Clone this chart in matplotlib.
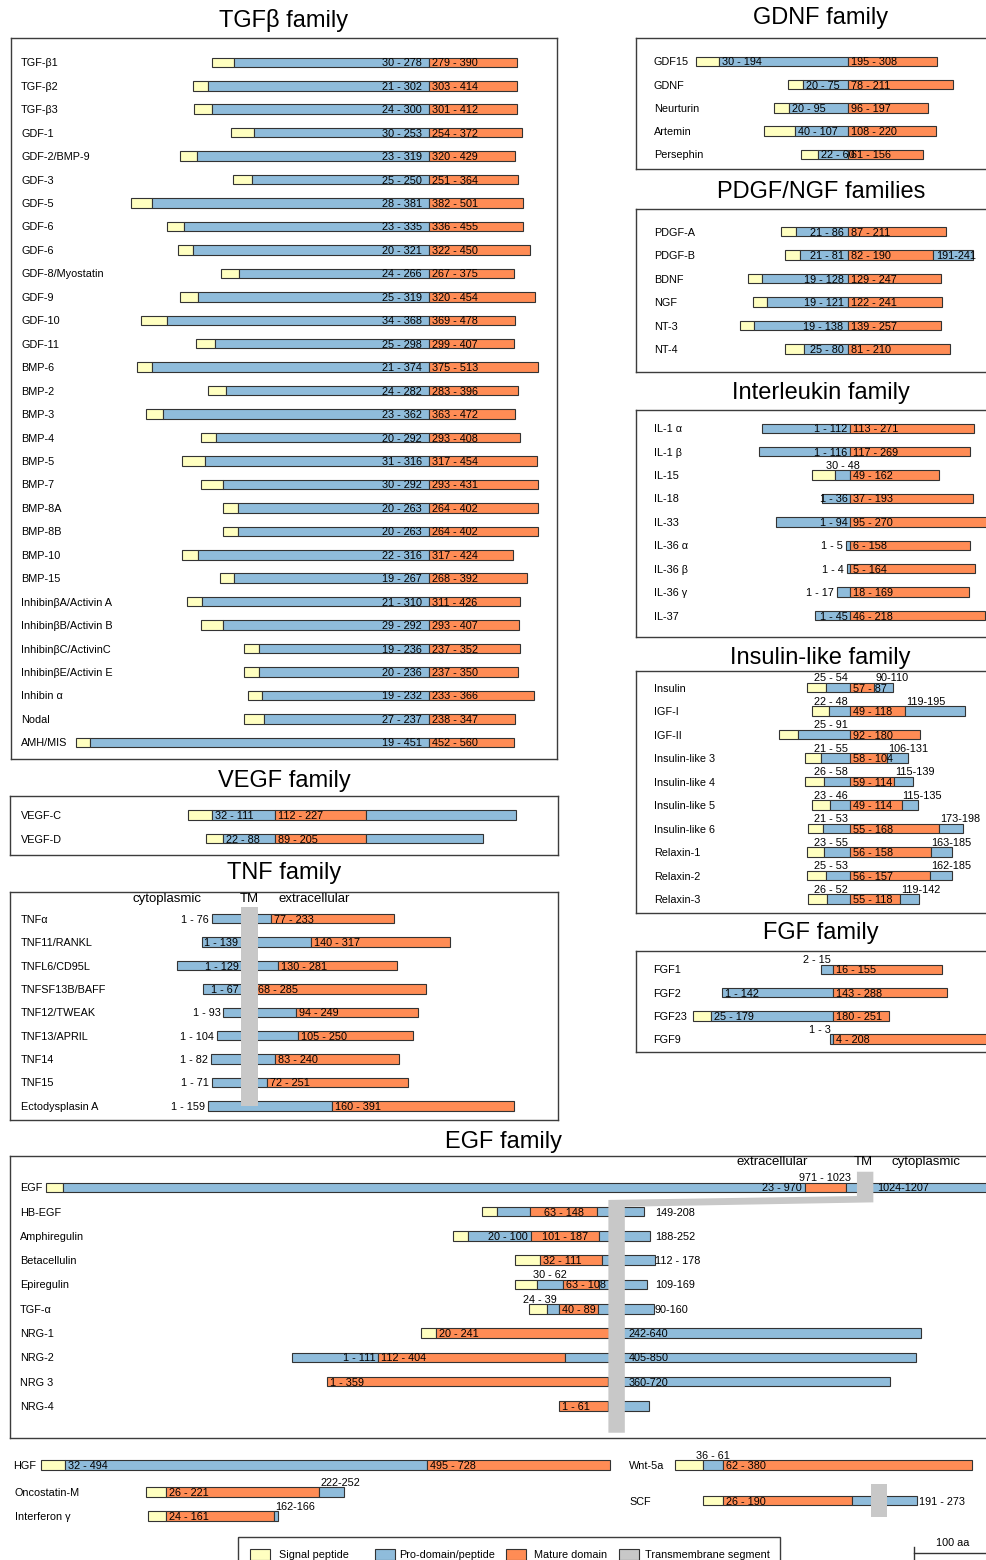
import matplotlib
matplotlib.use('Agg')
import matplotlib.pyplot as plt
from matplotlib.patches import Rectangle, Polygon

plt.rcParams['font.family'] = ['Liberation Sans', 'DejaVu Sans']

W, H = 987, 1560
S = 0.782            # pixels per amino acid
BAR_PX = 9.5
TM_AA = 21
FS = 7.8
COL = {'S': '#ffffc0', 'P': '#8fbcdb', 'M': '#ff8c55'}
TM_COL = '#c8c8c8'
EDGE = '#333333'

# ---------------- data ----------------
tgfb_names = ['TGF-β1', 'TGF-β2', 'TGF-β3', 'GDF-1', 'GDF-2/BMP-9', 'GDF-3', 'GDF-5',
              'GDF-6', 'GDF-6', 'GDF-8/Myostatin', 'GDF-9', 'GDF-10', 'GDF-11', 'BMP-6',
              'BMP-2', 'BMP-3', 'BMP-4', 'BMP-5', 'BMP-7', 'BMP-8A', 'BMP-8B', 'BMP-10',
              'BMP-15', 'InhibinβA/Activin A', 'InhibinβB/Activin B', 'InhibinβC/ActivinC',
              'InhibinβE/Activin E', 'Inhibin α', 'Nodal', 'AMH/MIS']
tgfb_pro = [(30, 278), (21, 302), (24, 300), (30, 253), (23, 319), (25, 250), (28, 381),
            (23, 335), (20, 321), (24, 266), (25, 319), (34, 368), (25, 298), (21, 374),
            (24, 282), (23, 362), (20, 292), (31, 316), (30, 292), (20, 263), (20, 263),
            (22, 316), (19, 267), (21, 310), (29, 292), (19, 236), (20, 236), (19, 232),
            (27, 237), (19, 451)]
tgfb_mature = [(279, 390), (303, 414), (301, 412), (254, 372), (320, 429), (251, 364),
               (382, 501), (336, 455), (322, 450), (267, 375), (320, 454), (369, 478),
               (299, 407), (375, 513), (283, 396), (363, 472), (293, 408), (317, 454),
               (293, 431), (264, 402), (264, 402), (317, 424), (268, 392), (311, 426),
               (293, 407), (237, 352), (237, 350), (233, 366), (238, 347), (452, 560)]

vegf_names = ['VEGF-C', 'VEGF-D']
vegf_segs = [
    [('S', 1, 31), ('P', 32, 111, '32 - 111', 'l'), ('M', 112, 227, '112 - 227', 'l'), ('P', 228, 419)],
    [('S', 1, 21), ('P', 22, 88, '22 - 88', 'l'), ('M', 89, 205, '89 - 205', 'l'), ('P', 206, 354)],
]

tnf_names = ['TNFα', 'TNF11/RANKL', 'TNFL6/CD95L', 'TNFSF13B/BAFF', 'TNF12/TWEAK',
             'TNF13/APRIL', 'TNF14', 'TNF15', 'Ectodysplasin A']
tnf_tm = [39, 51, 83, 50, 24, 32, 40, 39, 44]
tnf_segs = [
    [('P', 1, 76, '1 - 76', 'ol'), ('M', 77, 233, '77 - 233', 'l')],
    [('P', 1, 139, '1 - 139', 'tl'), ('M', 140, 317, '140 - 317', 'l')],
    [('P', 1, 129, '1 - 129', 'tl'), ('M', 130, 281, '130 - 281', 'l')],
    [('P', 1, 67, '1 - 67', 'tl'), ('M', 68, 285, '68 - 285', 'l')],
    [('P', 1, 93, '1 - 93', 'ol'), ('M', 94, 249, '94 - 249', 'l')],
    [('P', 1, 104, '1 - 104', 'ol'), ('M', 105, 250, '105 - 250', 'l')],
    [('P', 1, 82, '1 - 82', 'ol'), ('M', 83, 240, '83 - 240', 'l')],
    [('P', 1, 71, '1 - 71', 'ol'), ('M', 72, 251, '72 - 251', 'l')],
    [('P', 1, 159, '1 - 159', 'ol'), ('M', 160, 391, '160 - 391', 'l')],
]

gdnf_names = ['GDF15', 'GDNF', 'Neurturin', 'Artemin', 'Persephin']
gdnf_segs = [
    [('S', 1, 29), ('P', 30, 194, '30 - 194', 'l'), ('M', 195, 308, '195 - 308', 'l')],
    [('S', 1, 19), ('P', 20, 77, '20 - 75', 'l'), ('M', 78, 211, '78 - 211', 'l')],
    [('S', 1, 19), ('P', 20, 95, '20 - 95', 'l'), ('M', 96, 197, '96 - 197', 'l')],
    [('S', 1, 39), ('P', 40, 107, '40 - 107', 'l'), ('M', 108, 220, '108 - 220', 'l')],
    [('S', 1, 21), ('P', 22, 60, '22 - 60', 'l'), ('M', 61, 156, '61 - 156', 'l')],
]

pdgf_names = ['PDGF-A', 'PDGF-B', 'BDNF', 'NGF', 'NT-3', 'NT-4']
pdgf_segs = [
    [('S', 1, 20), ('P', 21, 86, '21 - 86', 'r'), ('M', 87, 211, '87 - 211', 'l')],
    [('S', 1, 20), ('P', 21, 81, '21 - 81', 'r'), ('M', 82, 190, '82 - 190', 'l'), ('P', 191, 241, '191-241', 'l')],
    [('S', 1, 18), ('P', 19, 128, '19 - 128', 'r'), ('M', 129, 247, '129 - 247', 'l')],
    [('S', 1, 18), ('P', 19, 121, '19 - 121', 'r'), ('M', 122, 241, '122 - 241', 'l')],
    [('S', 1, 18), ('P', 19, 138, '19 - 138', 'r'), ('M', 139, 257, '139 - 257', 'l')],
    [('S', 1, 24), ('P', 25, 80, '25 - 80', 'r'), ('M', 81, 210, '81 - 210', 'l')],
]

il_names = ['IL-1 α', 'IL-1 β', 'IL-15', 'IL-18', 'IL-33', 'IL-36 α', 'IL-36 β', 'IL-36 γ', 'IL-37']
il_segs = [
    [('P', 1, 112, '1 - 112', 'r'), ('M', 113, 271, '113 - 271', 'l')],
    [('P', 1, 116, '1 - 116', 'r'), ('M', 117, 269, '117 - 269', 'l')],
    [('S', 1, 29), ('P', 30, 48, '30 - 48', 'ac'), ('M', 49, 162, '49 - 162', 'l')],
    [('P', 1, 36, '1 - 36', 'r'), ('M', 37, 193, '37 - 193', 'l')],
    [('P', 1, 94, '1 - 94', 'r'), ('M', 95, 270, '95 - 270', 'l')],
    [('P', 1, 5, '1 - 5', 'ol'), ('M', 6, 158, '6 - 158', 'l')],
    [('P', 1, 4, '1 - 4', 'ol'), ('M', 5, 164, '5 - 164', 'l')],
    [('P', 1, 17, '1 - 17', 'ol'), ('M', 18, 169, '18 - 169', 'l')],
    [('P', 1, 45, '1 - 45', 'r'), ('M', 46, 218, '46 - 218', 'l')],
]

ins_names = ['Insulin', 'IGF-I', 'IGF-II', 'Insulin-like 3', 'Insulin-like 4', 'Insulin-like 5',
             'Insulin-like 6', 'Relaxin-1', 'Relaxin-2', 'Relaxin-3']
ins_segs = [
    [('S', 1, 24), ('P', 25, 55, '25 - 54', 'ar'), ('M', 56, 86, '57 - 87', 'l'), ('P', 87, 110, '90-110', 'al')],
    [('S', 1, 21), ('P', 22, 48, '22 - 48', 'ar'), ('M', 49, 118, '49 - 118', 'l'), ('P', 119, 195, '119-195', 'al')],
    [('S', 1, 24), ('P', 25, 91, '25 - 91', 'ar'), ('M', 92, 180, '92 - 180', 'l')],
    [('S', 1, 20), ('P', 21, 57, '21 - 55', 'ar'), ('M', 58, 104, '58 - 104', 'l'), ('P', 105, 131, '106-131', 'al')],
    [('S', 1, 25), ('P', 26, 58, '26 - 58', 'ar'), ('M', 59, 114, '59 - 114', 'l'), ('P', 115, 139, '115-139', 'al')],
    [('S', 1, 22), ('P', 23, 48, '23 - 46', 'ar'), ('M', 49, 114, '49 - 114', 'l'), ('P', 115, 135, '115-135', 'al')],
    [('S', 1, 20), ('P', 21, 54, '21 - 53', 'ar'), ('M', 55, 168, '55 - 168', 'l'), ('P', 169, 198, '173-198', 'al')],
    [('S', 1, 22), ('P', 23, 55, '23 - 55', 'ar'), ('M', 56, 158, '56 - 158', 'l'), ('P', 159, 185, '163-185', 'al')],
    [('S', 1, 24), ('P', 25, 55, '25 - 53', 'ar'), ('M', 56, 157, '56 - 157', 'l'), ('P', 158, 185, '162-185', 'al')],
    [('S', 1, 25), ('P', 26, 54, '26 - 52', 'ar'), ('M', 55, 118, '55 - 118', 'l'), ('P', 119, 142, '119-142', 'al')],
]

fgf_names = ['FGF1', 'FGF2', 'FGF23', 'FGF9']
fgf_segs = [
    [('P', 1, 15, '2 - 15', 'ar'), ('M', 16, 155, '16 - 155', 'l')],
    [('P', 1, 142, '1 - 142', 'l'), ('M', 143, 288, '143 - 288', 'l')],
    [('S', 1, 24), ('P', 25, 179, '25 - 179', 'l'), ('M', 180, 251, '180 - 251', 'l')],
    [('P', 1, 3, '1 - 3', 'ar'), ('M', 4, 208, '4 - 208', 'l')],
]

egf_names = ['EGF', 'HB-EGF', 'Amphiregulin', 'Betacellulin', 'Epiregulin', 'TGF-α',
             'NRG-1', 'NRG-2', 'NRG 3', 'NRG-4']
egf_tm = [1038, 163, 200, 120, 121, 103, 241, 406, 361, 64]
egf_segs = [
    [('S', 1, 22), ('P', 23, 970, '23 - 970', 'r'), ('M', 971, 1023, '971 - 1023', 'ac'), ('P', 1024, 1207, '1024-1207', 'tm')],
    [('S', 1, 19), ('P', 20, 62), ('M', 63, 148, '63 - 148', 'c'), ('P', 149, 208, '149-208', 'col')],
    [('S', 1, 19), ('P', 20, 100, '20 - 100', 'r'), ('M', 101, 187, '101 - 187', 'c'), ('P', 188, 252, '188-252', 'col')],
    [('S', 1, 31), ('M', 32, 111, '32 - 111', 'l'), ('P', 112, 178, '112 - 178', 'col')],
    [('S', 1, 29), ('P', 30, 62, '30 - 62', 'ac'), ('M', 63, 108, '63 - 108', 'l'), ('P', 109, 169, '109-169', 'col')],
    [('S', 1, 23), ('P', 24, 39, '24 - 39', 'ar'), ('M', 40, 89, '40 - 89', 'l'), ('P', 90, 160, '90-160', 'col')],
    [('S', 1, 19), ('M', 20, 241, '20 - 241', 'l'), ('P', 242, 640, '242-640', 'tm')],
    [('P', 1, 111, '1 - 111', 'r'), ('M', 112, 350, '112 - 404', 'l'), ('P', 351, 798, '405-850', 'tm')],
    [('M', 1, 359, '1 - 359', 'l'), ('P', 360, 720, '360-720', 'tm')],
    [('M', 1, 62, '1 - 61', 'l'), ('P', 63, 115)],
]

misc_names = ['HGF', 'Oncostatin-M', 'Interferon γ', 'Wnt-5a', 'SCF']
misc_align = [0, 25, 23, 61, 25]
misc_segs = [
    [('S', 1, 31), ('P', 32, 494, '32 - 494', 'l'), ('M', 495, 728, '495 - 728', 'l')],
    [('S', 1, 25), ('M', 26, 221, '26 - 221', 'l'), ('P', 222, 252, '222-252', 'al')],
    [('S', 1, 23), ('M', 24, 161, '24 - 161', 'l'), ('P', 162, 166, '162-166', 'al')],
    [('S', 1, 35), ('P', 36, 61, '36 - 61', 'ac'), ('M', 62, 380, '62 - 380', 'l')],
    [('S', 1, 25), ('M', 26, 190, '26 - 190', 'l'), ('P', 191, 273, '191 - 273', 'or')],
]
scf_tm = 215

legend_labels = ['Signal peptide', 'Pro-domain/peptide', 'Mature domain', 'Transmembrane segment']

# ---------------- drawing ----------------
fig = plt.figure(figsize=(W / 100, H / 100), dpi=100)


def title(x, y, s):
    fig.text(x / W, 1 - y / H, s, ha='center', va='center', fontsize=17)


def panel(box, row0, step, anchor):
    x0, y0, x1, y1 = box
    ax = fig.add_axes([x0 / W, 1 - y1 / H, (x1 - x0) / W, (y1 - y0) / H])
    ax.set_xlim((x0 - anchor) / S, (x1 - anchor) / S)
    ax.set_ylim((y1 - row0) / step, (y0 - row0) / step)
    ax.set_xticks([])
    ax.set_yticks([])
    ax.patch.set_alpha(0)
    for sp in ax.spines.values():
        sp.set_color('#3c3c3c')
        sp.set_linewidth(1.0)
    return ax


def first_mature(segs):
    return [s[1] for s in segs if s[0] == 'M'][0] - 1


def draw_row(ax, row, segs, align, step, pad_r=3, tm_x=None, col_x=None):
    h = BAR_PX / step
    px, py = 1 / S, 1 / step
    bar_l = segs[0][1] - 1 - align
    bar_r = segs[-1][2] - align
    for seg in segs:
        kind, s, e = seg[:3]
        left, right = s - 1 - align, e - align
        ax.barh(row, right - left, left=left, height=h, color=COL[kind],
                edgecolor=EDGE, linewidth=0.8, zorder=2)
        if len(seg) < 4:
            continue
        text, place = seg[3], seg[4]
        y, va = row, 'center_baseline'
        if place.startswith('a'):
            y, va = row - h / 2 - 1.5 * py, 'baseline'
        if place == 'l':
            x, ha = left + 3 * px, 'left'
        elif place == 'r':
            x, ha = right - pad_r * px, 'right'
        elif place in ('c', 'ac'):
            x, ha = (left + right) / 2, 'center'
        elif place == 'ar':
            x, ha = right - 2 * px, 'right'
        elif place == 'al':
            x, ha = left + 1 * px, 'left'
        elif place == 'ol':
            x, ha = bar_l - 3 * px, 'right'
        elif place == 'or':
            x, ha = bar_r + 2 * px, 'left'
        elif place == 'col':
            x, ha = col_x, 'left'
        elif place == 'tm':
            x, ha = tm_x + TM_AA + 3.5 * px, 'left'
        else:  # 'tl'
            x, ha = tm_x - 3 * px, 'right'
        ax.text(x, y, text, ha=ha, va=va, fontsize=FS, zorder=6)


def names(ax, labels, name_px, anchor):
    for i, n in enumerate(labels):
        ax.text((name_px - anchor) / S, i, n, ha='left', va='center_baseline', fontsize=FS)


# TGF-beta family
title(284, 20, 'TGFβ family')
ax = panel((11, 38, 557, 759), 62.3, 23.45, 429)
names(ax, tgfb_names, 21, 429)
for i, ((p0, p1), (m0, m1)) in enumerate(zip(tgfb_pro, tgfb_mature)):
    segs = [('S', 1, p0 - 1), ('P', p0, p1, f'{p0} - {p1}', 'r'), ('M', m0, m1, f'{m0} - {m1}', 'l')]
    draw_row(ax, i, segs, m0 - 1, 23.45, pad_r=7)

# VEGF family
title(284, 781, 'VEGF family')
ax = panel((10, 796, 558, 855), 815, 23.7, 275)
names(ax, vegf_names, 21, 275)
for i, segs in enumerate(vegf_segs):
    draw_row(ax, i, segs, first_mature(segs), 23.7)

# TNF family
title(284, 873, 'TNF family')
ax = panel((10, 892, 558, 1120), 918.7, 23.4, 241.4)
names(ax, tnf_names, 21, 241.4)
for i, segs in enumerate(tnf_segs):
    draw_row(ax, i, segs, tnf_tm[i] - 1, 23.4, tm_x=0)
ax.add_patch(Rectangle((0, -0.51), TM_AA, len(tnf_names) - 0.49, facecolor=TM_COL,
                       edgecolor='none', zorder=3))
for txt, xp in [('cytoplasmic', 167), ('TM', 249), ('extracellular', 314.5)]:
    ax.text((xp - 241.4) / S, -0.84, txt, ha='center', va='center', fontsize=9.5)

# GDNF family
title(820.7, 18.3, 'GDNF family')
ax = panel((636, 38, 1000, 169), 61.3, 23.25, 848)
names(ax, gdnf_names, 654, 848)
for i, segs in enumerate(gdnf_segs):
    draw_row(ax, i, segs, first_mature(segs), 23.25)

# PDGF/NGF families
title(820.7, 191.7, 'PDGF/NGF families')
ax = panel((636, 209, 1000, 372), 231.7, 23.45, 848)
names(ax, pdgf_names, 654, 848)
for i, segs in enumerate(pdgf_segs):
    draw_row(ax, i, segs, first_mature(segs), 23.45, pad_r=4.5)

# Interleukin family
title(820.7, 393, 'Interleukin family')
ax = panel((636, 410, 1000, 637), 428.3, 23.4, 850)
names(ax, il_names, 654, 850)
for i, segs in enumerate(il_segs):
    draw_row(ax, i, segs, first_mature(segs), 23.4, pad_r=2.5)

# Insulin-like family
title(820.7, 658.3, 'Insulin-like family')
ax = panel((636, 671, 1000, 913), 687.7, 23.48, 850)
names(ax, ins_names, 654, 850)
for i, segs in enumerate(ins_segs):
    draw_row(ax, i, segs, first_mature(segs), 23.48)

# FGF family
title(820.7, 933.3, 'FGF family')
ax = panel((636, 951, 1000, 1052), 969.3, 23.25, 832.7)
names(ax, fgf_names, 652.7, 832.7)
for i, segs in enumerate(fgf_segs):
    draw_row(ax, i, segs, first_mature(segs), 23.25)

# EGF family
EGF_ANCHOR, EGF_STEP = 608.4, 24.3
title(503.5, 1142.3, 'EGF family')
ax = panel((9.5, 1156, 1000, 1438), 1187.3, EGF_STEP, EGF_ANCHOR)
names(ax, egf_names, 20, EGF_ANCHOR)
egf_align = [t - 1 for t in egf_tm]
egf_align[0] = (EGF_ANCHOR - 46) / S          # EGF itself starts near the left edge
col_x = (655 - EGF_ANCHOR) / S
for i, segs in enumerate(egf_segs):
    tmx = egf_tm[i] - 1 - egf_align[i]
    draw_row(ax, i, segs, egf_align[i], EGF_STEP, tm_x=tmx, col_x=col_x)
ux = egf_tm[0] - 1 - egf_align[0]
n = len(egf_names)
ax.add_patch(Polygon([(ux, -0.64), (ux + TM_AA, -0.64), (ux + TM_AA, 0.62), (TM_AA, 0.80),
                      (TM_AA, n + 0.1), (0, n + 0.1), (0, 0.52), (ux, 0.36)],
                     closed=True, facecolor=TM_COL, edgecolor='none', zorder=3))
for txt, xp in [('extracellular', 772), ('TM', 863), ('cytoplasmic', 926)]:
    ax.text((xp - EGF_ANCHOR) / S, -1.04, txt, ha='center', va='center', fontsize=9.5)

# remaining proteins, legend and scale bar
axb = fig.add_axes([0, 0, 1, 120 / H])
axb.set_xlim(0, W / S)
axb.set_ylim(1560, 1440)
axb.axis('off')
misc_y = [1465, 1492, 1516, 1465, 1500.7]
misc_anchor = [41, 166, 166, 723, 723]
misc_name_x = [13, 15, 15, 629, 629]
for i, segs in enumerate(misc_segs):
    align = misc_align[i] - misc_anchor[i] / S
    draw_row(axb, misc_y[i], segs, align, 1)
    axb.text(misc_name_x[i] / S, misc_y[i], misc_names[i], ha='left',
             va='center_baseline', fontsize=FS)
scf_off = misc_anchor[4] / S - misc_align[4]
axb.add_patch(Rectangle((scf_off + scf_tm - 1, misc_y[4] - 16.5), TM_AA, 33,
                        facecolor=TM_COL, edgecolor='none', zorder=3))

axb.add_patch(Rectangle((238 / S, 1537.3), (780 - 238) / S, 40, facecolor='none',
                        edgecolor='#3c3c3c', linewidth=1.0, clip_on=False))
for lab, col, sx, tx in zip(legend_labels, [COL['S'], COL['P'], COL['M'], TM_COL],
                            [250.5, 375, 506, 618.6], [279, 399.6, 533.7, 645]):
    axb.add_patch(Rectangle((sx / S, 1548.7), 20 / S, 11, facecolor=col,
                            edgecolor=EDGE, linewidth=0.8))
    axb.text(tx / S, 1554, lab, ha='left', va='center_baseline', fontsize=FS)

x0 = 913.8 / S
axb.plot([x0, x0 + 100], [1553, 1553], color='#333333', lw=1.0, clip_on=False)
axb.plot([x0, x0], [1547, 1559], color='#333333', lw=1.0)
axb.text(x0 + 50, 1542.7, '100 aa', ha='center', va='center', fontsize=FS)

fig.savefig('out.png', dpi=100)
